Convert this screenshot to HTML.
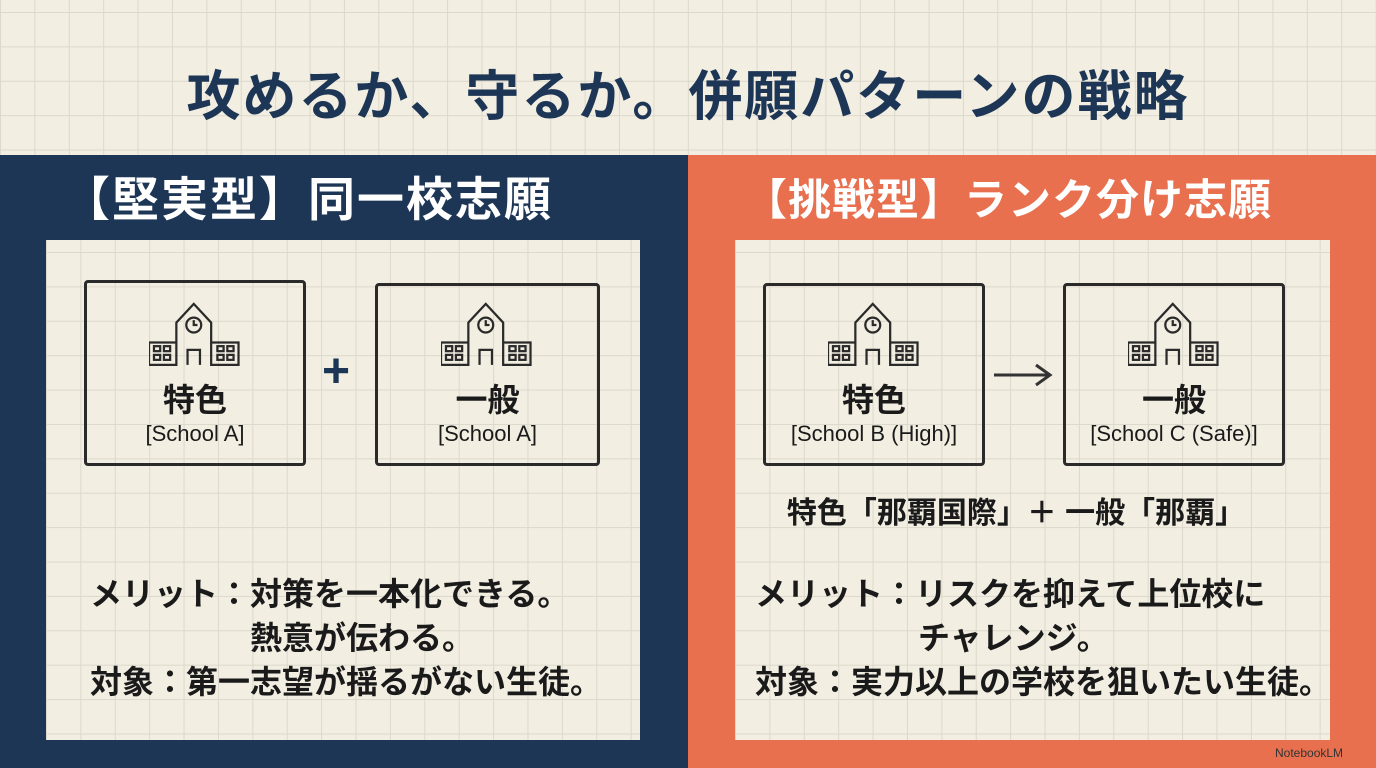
<!DOCTYPE html>
<html><head><meta charset="utf-8"><style>
*{margin:0;padding:0;box-sizing:border-box}
body{width:1376px;height:768px;overflow:hidden;position:relative;font-family:"Liberation Sans","Noto Sans CJK JP",sans-serif;
background-color:#f2eee2;
background-image:linear-gradient(#dcd8cc 1px,transparent 1px),linear-gradient(90deg,#dcd8cc 1px,transparent 1px);
background-size:34.4px 34.4px;background-position:0 12px}
.abs{position:absolute}
.title{left:0;width:1376px;top:52px;text-align:center;font-size:54px;font-weight:bold;color:#1d3656;letter-spacing:2px}
.panel{top:155px;height:613px}
.inner{background-color:#f2eee2;background-image:linear-gradient(#dcd8cc 1px,transparent 1px),linear-gradient(90deg,#dcd8cc 1px,transparent 1px);background-size:34.4px 34.4px;background-position:0 12px}
.hdr{color:#fff;font-weight:bold;text-align:center;white-space:nowrap}
.box{border:3px solid #2a2a2a;border-radius:4px;text-align:center;color:#1a1a1a}
.box .k{font-size:32px;font-weight:bold;position:absolute;left:0;right:0;top:92px}
.box .s{font-size:22px;position:absolute;left:0;right:0;top:138px}
.txt{font-size:32px;font-weight:bold;color:#1a1a1a;line-height:44px;white-space:nowrap}
</style></head><body>
<div class="abs title">攻めるか、守るか。併願パターンの戦略</div>

<div class="abs panel" style="left:0;width:688px;background:#1d3656"></div>
<div class="abs inner" style="left:46px;top:240px;width:594px;height:500px"></div>
<div class="abs hdr" style="left:58px;top:170px;width:500px;font-size:47px;line-height:60px;letter-spacing:2px">【堅実型】同一校志願</div>

<div class="abs panel" style="left:688px;width:688px;background:#e8704f"></div>
<div class="abs inner" style="left:735px;top:240px;width:595px;height:500px"></div>
<div class="abs hdr" style="left:738px;top:172px;width:540px;font-size:43px;line-height:58px;letter-spacing:1px">【挑戦型】ランク分け志願</div>

<svg width="0" height="0" style="position:absolute"><defs>
<g id="sch" fill="none" stroke="#2a2a2a" stroke-width="1.8">
<path d="M0 38 H22 V56 H0 Z M50 38 H72 V56 H50 Z M22 56 V22 L36 7 L50 22 V56"/>
<circle cx="36" cy="24" r="6"/><path d="M36 20 V24 H39"/>
<path d="M31 56 V44 H41 V56"/>
<rect x="4" y="41" width="5" height="4"/><rect x="12" y="41" width="5" height="4"/><rect x="4" y="48" width="5" height="4"/><rect x="12" y="48" width="5" height="4"/>
<rect x="55" y="41" width="5" height="4"/><rect x="63" y="41" width="5" height="4"/><rect x="55" y="48" width="5" height="4"/><rect x="63" y="48" width="5" height="4"/>
</g></defs></svg>

<div class="abs box" style="left:84px;top:280px;width:222px;height:186px">
<svg class="abs" style="left:62px;top:12px" width="92" height="75" viewBox="0 0 74 60"><use href="#sch"/></svg>
<div class="k">特色</div><div class="s">[School A]</div></div>
<div class="abs" style="left:322px;top:344px;font-size:48px;color:#1d3656;font-weight:bold">+</div>
<div class="abs box" style="left:375px;top:283px;width:225px;height:183px">
<svg class="abs" style="left:63px;top:9px" width="92" height="75" viewBox="0 0 74 60"><use href="#sch"/></svg>
<div class="k" style="top:89px">一般</div><div class="s" style="top:135px">[School A]</div></div>

<div class="abs box" style="left:763px;top:283px;width:222px;height:183px">
<svg class="abs" style="left:62px;top:9px" width="92" height="75" viewBox="0 0 74 60"><use href="#sch"/></svg>
<div class="k" style="top:89px">特色</div><div class="s" style="top:135px">[School B (High)]</div></div>
<svg class="abs" style="left:990px;top:360px" width="70" height="30"><path d="M4 15 H60 M46 5 L60 15 L46 25" fill="none" stroke="#333" stroke-width="3"/></svg>
<div class="abs box" style="left:1063px;top:283px;width:222px;height:183px">
<svg class="abs" style="left:62px;top:9px" width="92" height="75" viewBox="0 0 74 60"><use href="#sch"/></svg>
<div class="k" style="top:89px">一般</div><div class="s" style="top:135px">[School C (Safe)]</div></div>
<div class="abs" style="left:716px;width:600px;top:488px;text-align:center;font-size:30px;font-weight:bold;color:#1a1a1a">特色「那覇国際」＋ 一般「那覇」</div>

<div class="abs txt" style="left:90px;top:572px">メリット：対策を一本化できる。</div>
<div class="abs txt" style="left:250px;top:616px">熱意が伝わる。</div>
<div class="abs txt" style="left:90px;top:660px">対象：第一志望が揺るがない生徒。</div>

<div class="abs txt" style="left:755px;top:572px">メリット：リスクを抑えて上位校に</div>
<div class="abs txt" style="left:918px;top:616px">チャレンジ。</div>
<div class="abs txt" style="left:755px;top:660px">対象：実力以上の学校を狙いたい生徒。</div>

<div class="abs" style="left:1275px;top:746px;font-size:12px;color:#333">NotebookLM</div>
</body></html>
